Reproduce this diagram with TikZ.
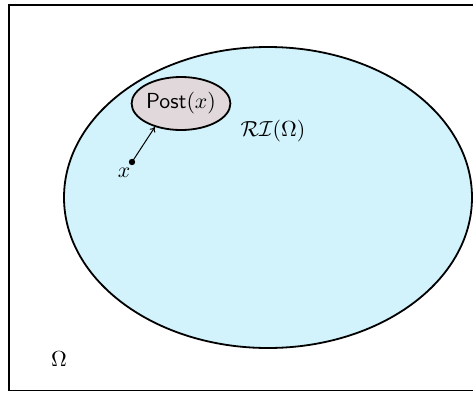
\documentclass[tikz,border=0pt]{standalone}
\usepackage{graphicx}
\usetikzlibrary{shapes.geometric,arrows.meta}
\definecolor{riblue}{RGB}{210,243,252}
\definecolor{postfill}{RGB}{224,216,218}
\tikzset{
  bigtext/.style={inner sep=0pt},
  region/.style={ellipse,draw=black,line width=1.8pt,inner sep=0pt},
}
\newcommand{\bigs}[1]{\scalebox{2.18}{#1}}
\begin{document}
\begin{tikzpicture}[x=1pt,y=1pt]
\useasboundingbox (0,0) rectangle (473,392);
\draw[line width=1.8pt] (500,1.5) -- (9,1.5) -- (9,387) -- (500,387);
\node[region,fill=riblue,minimum width=408pt,minimum height=301pt] (ri) at (268,194.5) {};
\node[region,fill=postfill,minimum width=94pt,minimum height=53pt] (post) at (181,288.5) {\bigs{$\mathsf{Post}(x)$}};
\coordinate (xdot) at (132,230);
\fill (xdot) circle[radius=3.2pt];
\node[bigtext] (xl) at (124,219) {\bigs{$x$}};
\draw[line width=1pt,-{To[length=5pt,width=6.5pt]}] (xdot) -- (post.222);
\node[bigtext] (ril) at (273,261) {\bigs{$\mathcal{RI}(\Omega)$}};
\node[bigtext] (om) at (59,33) {\bigs{$\Omega$}};
\end{tikzpicture}
\end{document}
